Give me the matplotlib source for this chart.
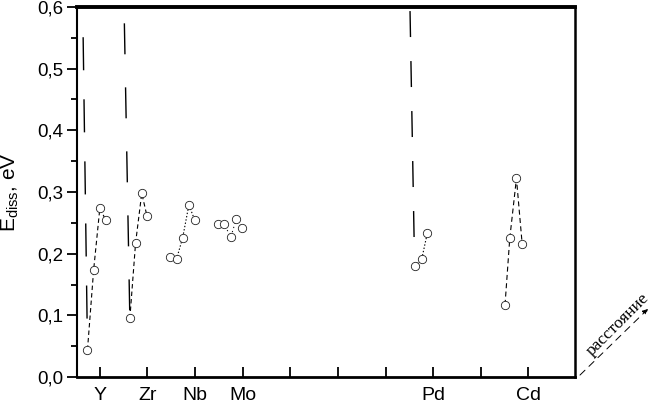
import matplotlib
matplotlib.use("Agg")
import matplotlib.pyplot as plt

plt.rcParams['font.family'] = ['Liberation Sans', 'DejaVu Sans']
plt.rcParams['mathtext.fontset'] = 'custom'
plt.rcParams['mathtext.rm'] = 'Liberation Sans'
plt.rcParams['mathtext.it'] = 'Liberation Sans'
plt.rcParams['lines.scale_dashes'] = False

# ---- data ----
tick_pos = [1, 2, 3, 4, 5, 6, 7, 8, 9, 10]
tick_labels = ["Y", "Zr", "Nb", "Mo", "", "", "", "Pd", "", "Cd"]
y_ticks = [0.0, 0.1, 0.2, 0.3, 0.4, 0.5, 0.6]
y_tick_labels = ["0,0", "0,1", "0,2", "0,3", "0,4", "0,5", "0,6"]

Y_x = [0.74, 0.87, 1.00, 1.12]
Y_e = [0.044, 0.174, 0.274, 0.255]
Zr_x = [1.63, 1.75, 1.88, 1.99]
Zr_e = [0.095, 0.217, 0.298, 0.261]
Nb_x = [2.47, 2.61, 2.74, 2.87, 2.99]
Nb_e = [0.194, 0.191, 0.226, 0.279, 0.255]
Mo_x = [3.48, 3.61, 3.75, 3.87, 3.99]
Mo_e = [0.248, 0.248, 0.227, 0.257, 0.241]
Pd_x = [7.62, 7.76, 7.88]
Pd_e = [0.180, 0.191, 0.234]
Cd_x = [9.51, 9.61, 9.75, 9.87]
Cd_e = [0.117, 0.225, 0.322, 0.216]

# long dashed guide lines
guide_Y_x = [0.649, 0.74]
guide_Y_e = [0.551, 0.047]
guide_Zr_x = [1.63, 1.505]
guide_Zr_e = [0.095, 0.615]
guide_Pd_x = [7.60, 7.51]
guide_Pd_e = [0.227, 0.615]

fig = plt.figure(figsize=(6.52, 4.03), dpi=100)
ax = fig.add_axes([77/652, 1-377/403, 498/652, 370/403])

# guide lines
ax.plot(guide_Y_x, guide_Y_e, color='black', lw=1.0, dashes=(23.8, 20.9), zorder=1)
ax.plot(guide_Zr_x, guide_Zr_e, color='black', lw=1.0, dashes=(0, 5.8, 22.3, 18.0), zorder=1)
ax.plot(guide_Pd_x, guide_Pd_e, color='black', lw=1.0, dashes=(18.7, 17.3), zorder=1)

series = [
    (Y_x, Y_e, (3.2, 2.2), 0.8),
    (Zr_x, Zr_e, (3.2, 2.2), 0.8),
    (Nb_x, Nb_e, (1.0, 1.4), 0.8),
    (Mo_x, Mo_e, (0.9, 2.2), 0.7),
    (Pd_x, Pd_e, (1.0, 1.4), 0.8),
    (Cd_x, Cd_e, (3.6, 2.4), 0.8),
]
for xs, es, dsh, lw in series:
    ax.plot(xs, es, color='black', lw=lw, dashes=dsh, zorder=2)
    ax.plot(xs, es, linestyle='none', marker='o', markersize=6.0,
            markerfacecolor='white', markeredgecolor='#222222',
            markeredgewidth=0.6, zorder=3)

ax.set_xlim(0.52, 10.98)
ax.set_ylim(0.0, 0.6)
ax.set_xticks(tick_pos)
ax.set_xticklabels(tick_labels, fontsize=14)
ax.set_yticks(y_ticks)
ax.set_yticklabels(y_tick_labels, fontsize=13.5)
ax.set_yticks([0.05, 0.15, 0.25, 0.35, 0.45, 0.55], minor=True)
ax.tick_params(axis='x', direction='in', length=7, width=1.3, pad=7)
ax.tick_params(axis='y', which='major', direction='out', length=7, width=1.3, pad=3)
ax.tick_params(axis='y', which='minor', direction='out', length=4, width=1.3)

ax.spines['top'].set_linewidth(2.8)
ax.spines['bottom'].set_linewidth(2.0)
ax.spines['left'].set_linewidth(1.5)
ax.spines['right'].set_linewidth(1.8)

ax.set_ylabel(r'E$_{\mathrm{diss}}$, eV', fontsize=15)
ax.yaxis.set_label_coords(-0.112, 0.5)

# distance arrow and label
ax.annotate('', xy=(650/652, 1-307/403), xytext=(578/652, 1-377/403),
            xycoords='figure fraction', textcoords='figure fraction',
            arrowprops=dict(arrowstyle='-|>', color='black', lw=0.7,
                            linestyle=(0, (5, 4)), mutation_scale=8),
            annotation_clip=False)
fig.text(618/652, 1-325/403, 'расстояние', rotation=45, fontsize=12.5,
         family=['Liberation Serif', 'DejaVu Serif'], ha='center', va='center')

fig.savefig('out.png', dpi=100)
